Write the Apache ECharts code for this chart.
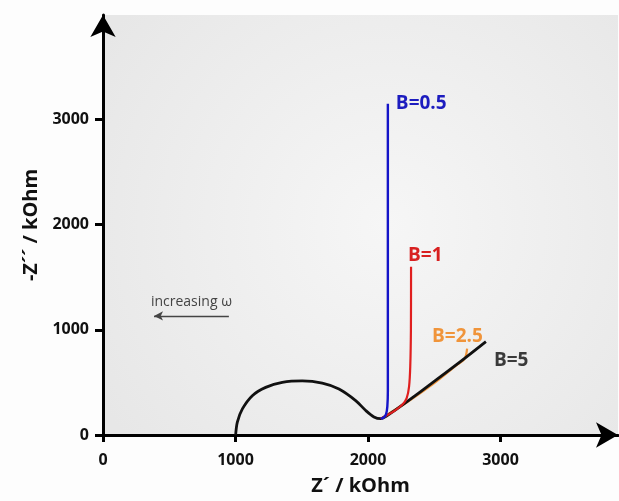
<!DOCTYPE html>
<html><head><meta charset="utf-8">
<script src="https://cdn.jsdelivr.net/npm/echarts@6/dist/echarts.min.js"></script>
<style>html,body{margin:0;padding:0;background:#fdfdfd;}#c{width:619px;height:501px;}</style>
</head><body><div id="c"></div>
<script>
// Data (Z' , -Z'' in kOhm)
var xTicks = [0, 1000, 2000, 3000];
var yTicks = [0, 1000, 2000, 3000];
var seriesNames = ['B=2.5', 'B=5', 'B=1', 'B=0.5'];
var curveB5 = [[1001,0],[1014,123],[1052,248],[1127,374],[1228,453],[1353,500],[1504,514],[1655,493],[1781,437],[1907,327],[1983,233],[2045,172],[2096,155],[2140,180],[2200,232],[2300,322],[2500,510],[2700,700],[2890,888]];
var curveB1 = [[2096,155],[2200,230],[2262,292],[2292,350],[2310,460],[2319,650],[2324,1000],[2325,1600]];
var curveB05 = [[2096,155],[2118,166],[2136,196],[2146,270],[2150,420],[2150,3150]];
var curveB25 = [[2096,155],[2300,316],[2500,493],[2677,672],[2722,712],[2740,760],[2748,822]];
var arrowFrom = [950, 1132];
var arrowTo = [385, 1132];
var arrowText = 'increasing \u03c9';

var chart = echarts.init(document.getElementById('c'), null, {renderer:'canvas'});
var F = '"Open Sans", "DejaVu Sans", sans-serif';
function lineSeries(name, data, color, width, labelCfg){
  return {
    type:'line', name:name, data:data, showSymbol:false, smooth:0.3, animation:false,
    lineStyle:{color:color, width:width}, silent:true,
    endLabel:Object.assign({show:true, formatter:name, color:labelCfg.color||color, fontFamily:F, fontWeight:'bold', fontSize:19}, labelCfg)
  };
}
var s25 = lineSeries(seriesNames[0], curveB25, '#f0943a', 2.2, {offset:[-43,-12], color:'#f0943a'});
var s5 = lineSeries(seriesNames[1], curveB5, '#111111', 2.8, {offset:[0,19], color:'#3a3a3a'});
s5.markLine = {
  silent:true, symbol:['none','arrow'], symbolSize:[7,9], animation:false,
  lineStyle:{color:'#444', width:1.3, type:'solid'},
  label:{show:true, position:'middle', formatter:arrowText, color:'#444', fontFamily:F, fontSize:14, distance:7},
  data:[[{coord:arrowFrom},{coord:arrowTo}]]
};
var s1 = lineSeries(seriesNames[2], curveB1, '#e01f1f', 2.2, {offset:[-11,-11], color:'#d82020'});
var s05 = lineSeries(seriesNames[3], curveB05, '#1414c8', 2.4, {offset:[0,0], color:'#1c1cbf'});

chart.setOption({
  animation:false,
  backgroundColor:'#fdfdfd',
  grid:{left:103, right:1, top:15, bottom:56, show:true, borderWidth:0,
    backgroundColor:{type:'radial', x:0.55, y:0.5, r:0.8, colorStops:[{offset:0,color:'#f6f6f6'},{offset:1,color:'#e7e7e7'}]}},
  xAxis:{type:'value', min:0, max:3887, interval:1000,
    name:"Z\u00b4 / kOhm", nameLocation:'middle', nameGap:41,
    nameTextStyle:{fontFamily:F, fontWeight:'bold', fontSize:20, color:'#111'},
    axisLine:{show:true, onZero:false, symbol:['none','arrow'], symbolSize:[19,22], lineStyle:{color:'#000', width:3}},
    axisTick:{show:true, inside:false, length:7, lineStyle:{color:'#000', width:3}, customValues:xTicks},
    axisLabel:{fontFamily:F, fontWeight:'bold', fontSize:16, color:'#111', margin:17, customValues:xTicks, formatter:function(v){return String(v);}},
    splitLine:{show:false}},
  yAxis:{type:'value', min:0, max:3993, interval:1000,
    name:"-Z\u00b4\u00b4 / kOhm", nameLocation:'middle', nameGap:62, nameRotate:90,
    nameTextStyle:{fontFamily:F, fontWeight:'bold', fontSize:20, color:'#111'},
    axisLine:{show:true, onZero:false, symbol:['none','arrow'], symbolSize:[19,22], lineStyle:{color:'#000', width:3}},
    axisTick:{show:true, inside:false, length:8, lineStyle:{color:'#000', width:3}, customValues:yTicks},
    axisLabel:{fontFamily:F, fontWeight:'bold', fontSize:16, color:'#111', margin:14, customValues:yTicks, formatter:function(v){return String(v);}},
    splitLine:{show:false}},
  series:[s25, s5, s1, s05]
});
</script></body></html>
